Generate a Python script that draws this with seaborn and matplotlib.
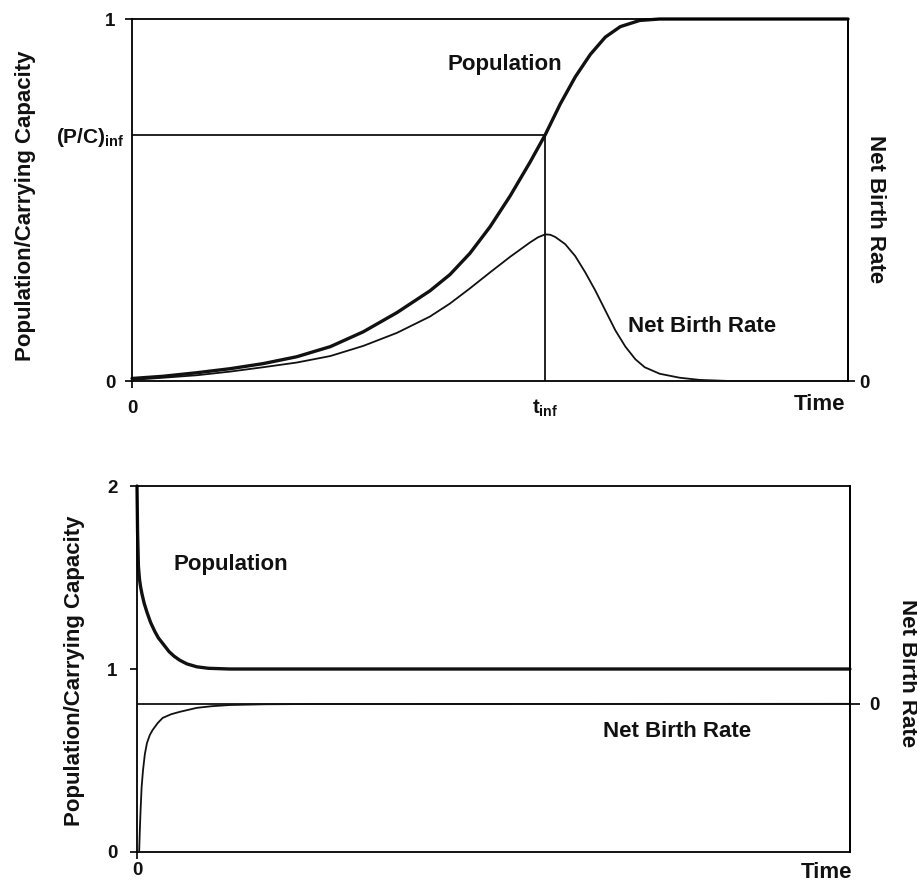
import matplotlib
matplotlib.use("Agg")
import matplotlib.pyplot as plt
import pandas as pd
import seaborn as sns

# ---- Data -------------------------------------------------------------
# S-shaped growth toward the carrying capacity (upper panel)
growth_time = [0.0, 0.43, 0.91, 1.37, 1.83, 2.30, 2.77, 3.23, 3.70, 4.16, 4.44, 4.72,
               5.00, 5.28, 5.56, 5.77, 5.98, 6.19, 6.40, 6.61, 6.82, 7.09, 7.37, 7.65, 10.0]
growth_population = [0.007, 0.013, 0.023, 0.034, 0.048, 0.067, 0.095, 0.136, 0.189, 0.249,
                     0.294, 0.353, 0.426, 0.511, 0.605, 0.68, 0.765, 0.84, 0.902, 0.95,
                     0.979, 0.996, 1.0, 1.0, 1.0]

growth_rate_time = [0.0, 0.43, 0.91, 1.37, 1.83, 2.30, 2.77, 3.23, 3.70, 4.16, 4.44, 4.72,
                    5.00, 5.28, 5.56, 5.67, 5.77, 5.84, 5.91, 6.05, 6.19, 6.33, 6.47, 6.61,
                    6.75, 6.89, 7.03, 7.16, 7.37, 7.65, 7.93, 8.35, 10.0]
growth_net_birth_rate = [0.003, 0.009, 0.016, 0.026, 0.038, 0.051, 0.069, 0.097, 0.133, 0.178,
                         0.214, 0.256, 0.30, 0.343, 0.383, 0.397, 0.405, 0.404, 0.398, 0.378,
                         0.345, 0.30, 0.25, 0.195, 0.14, 0.095, 0.06, 0.038, 0.02, 0.009,
                         0.003, 0.0, 0.0]

pc_inf = 0.68   # population/capacity at the inflection point
t_inf = 5.77    # time of the inflection point

# Overshoot decaying back to the carrying capacity (lower panel)
decay_time = [0.0, 0.008, 0.02, 0.035, 0.05, 0.07, 0.10, 0.14, 0.19, 0.25, 0.30, 0.36,
              0.45, 0.52, 0.60, 0.70, 0.84, 1.00, 1.30, 10.0]
decay_population = [2.0, 1.75, 1.56, 1.49, 1.45, 1.41, 1.36, 1.31, 1.255, 1.205, 1.17, 1.14,
                    1.095, 1.07, 1.048, 1.028, 1.012, 1.004, 1.0, 1.0]

decay_rate_time = [0.03, 0.04, 0.05, 0.065, 0.084, 0.11, 0.14, 0.18, 0.22, 0.29, 0.36,
                   0.48, 0.60, 0.84, 1.05, 1.30, 1.80, 2.50, 10.0]
decay_net_birth_rate = [-1.0, -0.85, -0.72, -0.56, -0.45, -0.34, -0.264, -0.21, -0.176, -0.13,
                        -0.095, -0.07, -0.054, -0.027, -0.016, -0.008, -0.003, -0.001, 0.0]

top_growth = pd.DataFrame({"Time": growth_time, "P/C": growth_population})
top_rate = pd.DataFrame({"Time": growth_rate_time, "NBR": growth_net_birth_rate})
bot_decay = pd.DataFrame({"Time": decay_time, "P/C": decay_population})
bot_rate = pd.DataFrame({"Time": decay_rate_time, "NBR": decay_net_birth_rate})

# ---- Style ------------------------------------------------------------
sns.set_theme(style="white")
plt.rcParams["font.family"] = ["Liberation Sans", "DejaVu Sans"]
plt.rcParams["font.weight"] = "bold"
plt.rcParams["mathtext.fontset"] = "custom"
plt.rcParams["mathtext.rm"] = "Liberation Sans:bold"
plt.rcParams["mathtext.it"] = "Liberation Sans:bold"
plt.rcParams["mathtext.bf"] = "Liberation Sans:bold"
plt.rcParams["mathtext.default"] = "rm"
plt.rcParams["axes.edgecolor"] = "black"
plt.rcParams["axes.linewidth"] = 1.3
for key in ("text.color", "axes.labelcolor", "xtick.color", "ytick.color",
            "xtick.labelcolor", "ytick.labelcolor"):
    plt.rcParams[key] = "#111111"

INK = "#111111"
THICK = 2.4
THIN = 1.3
LABEL_FS = 16
TICK_FS = 13.5

fig = plt.figure(figsize=(9.17, 8.84), dpi=100)
ax_top = fig.add_axes([0.1440, 0.5690, 0.7808, 0.4095])
ax_bot = fig.add_axes([0.1494, 0.0362, 0.7775, 0.4140])

# ---- Upper panel ------------------------------------------------------
ax = ax_top
ax.set_xlim(0, 10)
ax.set_ylim(0, 1)
sns.lineplot(data=top_growth, x="Time", y="P/C", ax=ax, color=INK, lw=THICK, clip_on=False)
ax.plot([0, t_inf], [pc_inf, pc_inf], color=INK, lw=THIN)
ax.plot([t_inf, t_inf], [0, pc_inf], color=INK, lw=THIN)

ax.set_yticks([0, 1], labels=["0", "1"])
ax.set_yticks([pc_inf], labels=[r"$(P/C)_{inf}$"], minor=True)
ax.set_xticks([0], labels=["0"])
ax.set_xticks([t_inf], labels=[r"$t_{inf}$"], minor=True)
ax.tick_params(axis="both", which="major", direction="out", length=5, width=THIN,
               labelsize=TICK_FS, color=INK, left=True, bottom=True)
ax.tick_params(axis="y", which="major", pad=7)
ax.tick_params(axis="x", which="major", pad=9)
ax.tick_params(axis="y", which="minor", length=0, pad=5, labelsize=TICK_FS + 1.5, left=True)
ax.tick_params(axis="x", which="minor", length=0, pad=12, labelsize=TICK_FS + 1, bottom=True)
ax.set_ylabel("Population/Carrying Capacity", fontsize=LABEL_FS, fontweight="bold")
ax.yaxis.set_label_coords(-0.149, 0.485)
ax.yaxis.label.set_va("center")
ax.set_xlabel("Time", fontsize=LABEL_FS, fontweight="bold", loc="right")
ax.xaxis.set_label_coords(0.996, -0.036)
ax.xaxis.label.set_va("top")
ax.text(4.40, 0.86, "Population", fontsize=LABEL_FS, fontweight="bold", ha="left", va="baseline")
ax.text(6.93, 0.134, "Net Birth Rate", fontsize=LABEL_FS, fontweight="bold", ha="left", va="baseline")

ax_r = ax.twinx()
ax_r.set_ylim(0, 1)
sns.lineplot(data=top_rate, x="Time", y="NBR", ax=ax_r, color=INK, lw=THIN, clip_on=False)
ax_r.set_yticks([0], labels=["0"])
ax_r.tick_params(axis="y", direction="out", length=5, width=THIN, pad=3,
                 labelsize=TICK_FS, right=True, color=INK)
ax_r.set_ylabel("Net Birth Rate", fontsize=LABEL_FS, fontweight="bold", rotation=270)
ax_r.yaxis.set_label_coords(1.0377, 0.475)
ax_r.yaxis.label.set_va("center")
for s in ("left", "top", "bottom"):
    ax_r.spines[s].set_visible(False)

# ---- Lower panel ------------------------------------------------------
ax = ax_bot
ax.set_xlim(0, 10)
ax.set_ylim(0, 2)
sns.lineplot(data=bot_decay, x="Time", y="P/C", ax=ax, color=INK, lw=THICK, clip_on=False)
ax.set_yticks([0, 1, 2], labels=["0", "1", "2"])
ax.set_xticks([0], labels=["0"])
ax.tick_params(axis="both", direction="out", length=5, width=THIN,
               labelsize=TICK_FS, color=INK, left=True, bottom=True)
ax.tick_params(axis="y", pad=9)
ax.tick_params(axis="x", pad=2)
ax.set_ylabel("Population/Carrying Capacity", fontsize=LABEL_FS, fontweight="bold")
ax.yaxis.set_label_coords(-0.087, 0.495)
ax.yaxis.label.set_va("center")
ax.set_xlabel("Time", fontsize=LABEL_FS, fontweight="bold", loc="right")
ax.xaxis.set_label_coords(1.003, -0.027)
ax.xaxis.label.set_va("top")
ax.text(0.505, 1.54, "Population", fontsize=LABEL_FS, fontweight="bold", ha="left", va="baseline")
ax.text(6.54, 0.628, "Net Birth Rate", fontsize=LABEL_FS, fontweight="bold", ha="left", va="baseline")

ax_r = ax.twinx()
ax_r.set_ylim(-1, 1.47)
ax_r.axhline(0, color=INK, lw=THIN)
sns.lineplot(data=bot_rate, x="Time", y="NBR", ax=ax_r, color=INK, lw=THIN, clip_on=False)
ax_r.set_yticks([0], labels=["0"])
ax_r.tick_params(axis="y", direction="out", length=7, width=THIN, pad=7,
                 labelsize=TICK_FS, right=True, color=INK)
ax_r.set_ylabel("Net Birth Rate", fontsize=LABEL_FS, fontweight="bold", rotation=270)
ax_r.yaxis.set_label_coords(1.08, 0.49)
ax_r.yaxis.label.set_va("center")
for s in ("left", "top", "bottom"):
    ax_r.spines[s].set_visible(False)

fig.savefig("out.png", dpi=100, facecolor="white")
